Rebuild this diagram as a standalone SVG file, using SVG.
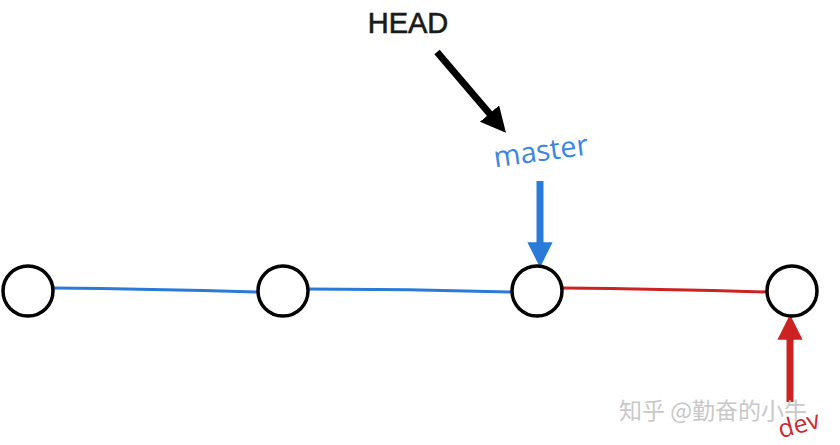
<svg xmlns="http://www.w3.org/2000/svg" width="840" height="445" viewBox="0 0 840 445">
<style>
.node{fill:#fff;stroke:#000;stroke-width:3.5}
.lbl{font-family:"Open Sans","Liberation Sans",Arial,sans-serif}
</style>
<defs>
<marker id="ahK" viewBox="0 0 10 10" refX="7" refY="5" markerWidth="3.6" markerHeight="3.6" orient="auto"><path d="M0,0 L10,5 L0,10 Z" fill="#000"/></marker>
<marker id="ahB" viewBox="0 0 10 10" refX="7" refY="5" markerWidth="3.6" markerHeight="3.6" orient="auto"><path d="M0,0 L10,5 L0,10 Z" fill="#2a7ad8"/></marker>
<marker id="ahR" viewBox="0 0 10 10" refX="7" refY="5" markerWidth="3.6" markerHeight="3.6" orient="auto"><path d="M0,0 L10,5 L0,10 Z" fill="#cc2222"/></marker>
</defs>
<rect width="840" height="445" fill="#fff"/>
<g id="connectors" fill="none">
<path d="M53,288 Q150,289 258,292" stroke="#2a7ad8" stroke-width="3"/>
<path d="M308,289 Q410,289 512,292" stroke="#2a7ad8" stroke-width="3"/>
<path d="M562,288 Q660,289 767,292" stroke="#cc2222" stroke-width="3"/>
<path d="M437,52 L501,127" stroke="#000" stroke-width="7" marker-end="url(#ahK)"/>
<path d="M540,181 L540,260" stroke="#2a7ad8" stroke-width="7" marker-end="url(#ahB)"/>
<path d="M790,402 L790,322" stroke="#cc2222" stroke-width="7" marker-end="url(#ahR)"/>
</g>
<g id="n1"><circle class="node" cx="28" cy="291" r="25"/></g>
<g id="n2"><circle class="node" cx="283" cy="291" r="25"/></g>
<g id="n3"><circle class="node" cx="537" cy="291" r="25"/></g>
<g id="n4"><circle class="node" cx="792" cy="291" r="25"/></g>
<g id="head"><text x="408" y="33" font-size="29" text-anchor="middle" fill="#1a1a1a" stroke="#1a1a1a" stroke-width="0.6" font-family="'Liberation Sans',Arial,sans-serif">HEAD</text></g>
<g id="master"><text class="lbl" x="541" y="161" font-size="29" text-anchor="middle" fill="#3a86e0" transform="rotate(-8 541 152)">master</text></g>
<g id="dev"><text class="lbl" x="799" y="433" font-size="25" text-anchor="middle" fill="#d0282c" transform="rotate(-15 799 425)">dev</text></g>
<text x="713" y="419" font-size="23" text-anchor="middle" fill="#c8c8c8" font-family="'Noto Sans CJK SC',sans-serif">知乎 @勤奋的小牛</text>
</svg>
